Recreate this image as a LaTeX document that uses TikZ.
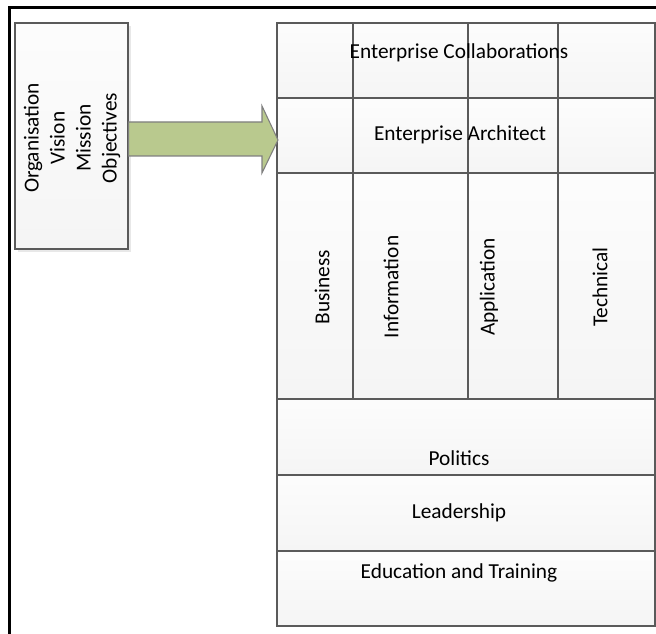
\documentclass[tikz,border=0pt]{standalone}
\usepackage{fontspec}
\setmainfont{Carlito}
\usetikzlibrary{calc, shadows}
\definecolor{rahmengrau}{HTML}{5A5A5A}
\definecolor{pfeilgruen}{HTML}{B9C98E}
\definecolor{pfeilrand}{HTML}{7F7F7F}

\begin{document}
\begin{tikzpicture}[x=0.75pt, y=-0.75pt, inner sep=0pt,
	zelle/.style={draw=rahmengrau, line width=0.8pt, top color=gray!2, bottom color=gray!8},
	schatten/.style={drop shadow={opacity=0.18, shadow xshift=2pt, shadow yshift=-2pt}},
	pfeil/.style={draw=pfeilrand, line width=0.8pt, fill=pfeilgruen},
	beschr/.style={font=\fontsize{16}{19.5}\selectfont, text=black}]

	\useasboundingbox (0,0) rectangle (656,634);

	% Rahmen
	\draw[black, line width=2.6pt] (9.5,634) -- (9.5,7.5) -- (656,7.5);

	% linke Box
	\node[zelle, schatten, minimum width=84.75pt, minimum height=169.5pt](ziel) at (71.5,136) {};
	\node[beschr, rotate=90, align=center](ziel_text) at (72,138) {Organisation\\Vision\\Mission\\Objectives};

	% Zellen oben
	\foreach \xa/\xb in {277/353, 353/468, 468/558, 558/655} {
		\draw[zelle] (\xa,23) rectangle (\xb,98);
		\draw[zelle] (\xa,98) rectangle (\xb,173);
		\draw[zelle] (\xa,173) rectangle (\xb,399);
	}

	% Zeilen unten
	\node[zelle, minimum width=283.5pt, minimum height=57pt](politik) at (466,437) {};
	\node[zelle, minimum width=283.5pt, minimum height=57pt](fuehrung) at (466,513) {};
	\node[zelle, minimum width=283.5pt, minimum height=56.25pt](bildung) at (466,588.5) {};

	% Pfeil
	\coordinate (spitze) at (278,140);
	\draw[pfeil] ($(ziel.east)+(0,-14)$) -- (262,122) -- (262,106) -- (spitze) -- (262,173) -- (262,156) -- ($(ziel.east)+(0,20)$) -- cycle;

	% Beschriftungen
	\node[beschr](EC) at (459,53) {Enterprise Collaborations};
	\node[beschr](EA) at (460,135) {Enterprise Architect};
	\node[beschr, rotate=90](B) at (322,287) {Business};
	\node[beschr, rotate=90](I) at (391,287) {Information};
	\node[beschr, rotate=90](A) at (489,287) {Application};
	\node[beschr, rotate=90](T) at (600,287) {Technical};
	\node[beschr](P) at (459,458) {Politics};
	\node[beschr](L) at (459,513) {Leadership};
	\node[beschr](E) at (459,573) {Education and Training};
\end{tikzpicture}
\end{document}
